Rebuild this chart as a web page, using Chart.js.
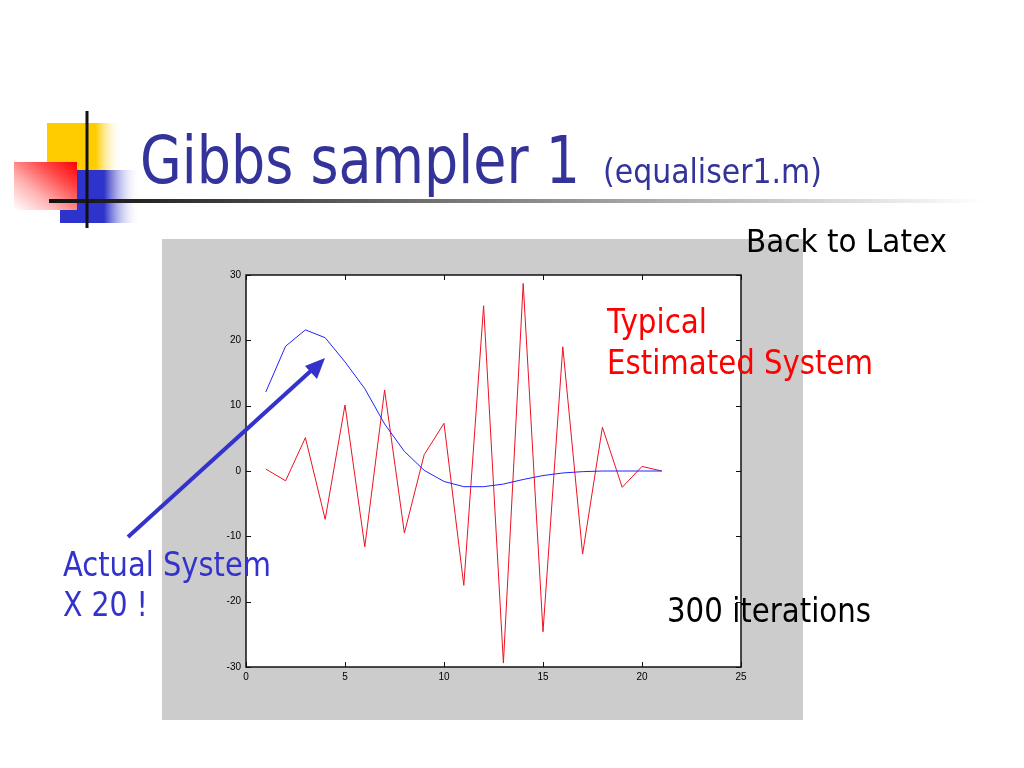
<!DOCTYPE html>
<html>
<head>
<meta charset="utf-8">
<script src="https://cdn.jsdelivr.net/npm/chart.js@4.4.0/dist/chart.umd.min.js"></script>
<style>
  html, body { margin:0; padding:0; background:#ffffff; }
  #page { position:relative; width:1024px; height:768px; overflow:hidden; background:#fff; }
  #chartBox { position:absolute; left:162px; top:239px; width:641px; height:481px; }
  #overlay { position:absolute; left:0; top:0; width:1024px; height:768px; pointer-events:none; }
  text { font-family: "DejaVu Sans", Verdana, sans-serif; }
</style>
</head>
<body>
<div id="page">
  <svg id="deco" width="1024" height="768" style="position:absolute;left:0;top:0">
    <defs>
      <linearGradient id="gYellow" x1="0" y1="0" x2="1" y2="0">
        <stop offset="0" stop-color="#ffcc00"/>
        <stop offset="0.65" stop-color="#ffcc00"/>
        <stop offset="1" stop-color="#ffffff" stop-opacity="0"/>
      </linearGradient>
      <linearGradient id="gBlue" x1="0" y1="0" x2="1" y2="0">
        <stop offset="0" stop-color="#2e33cc"/>
        <stop offset="0.55" stop-color="#2e33cc"/>
        <stop offset="1" stop-color="#ffffff" stop-opacity="0"/>
      </linearGradient>
      <linearGradient id="gRed" x1="1" y1="0" x2="0" y2="1">
        <stop offset="0" stop-color="#ff0000"/>
        <stop offset="0.3" stop-color="#ff4a4a"/>
        <stop offset="0.65" stop-color="#ffb4b4"/>
        <stop offset="1" stop-color="#ffffff"/>
      </linearGradient>
      <linearGradient id="gLine" x1="0" y1="0" x2="1" y2="0">
        <stop offset="0" stop-color="#111111"/>
        <stop offset="0.08" stop-color="#222222"/>
        <stop offset="1" stop-color="#ffffff"/>
      </linearGradient>
    </defs>
    <rect x="47" y="123" width="75" height="70" fill="url(#gYellow)"/>
    <rect x="60" y="170" width="80" height="53" fill="url(#gBlue)"/>
    <rect x="14" y="162" width="63" height="48" fill="url(#gRed)"/>
    <rect x="49" y="199" width="935" height="4" fill="url(#gLine)"/>
    <rect x="85.5" y="111" width="3" height="117" fill="#111111"/>
  </svg>
  <div id="chartBox"><canvas id="c" width="641" height="481"></canvas></div>
  <svg id="overlay" width="1024" height="768">
    <text x="140" y="183" font-size="66" fill="#333399" textLength="440" lengthAdjust="spacingAndGlyphs">Gibbs sampler 1</text>
    <text x="603" y="183" font-size="33" fill="#333399" textLength="219" lengthAdjust="spacingAndGlyphs">(equaliser1.m)</text>
    <text x="746" y="252" font-size="32" fill="#000000" textLength="201" lengthAdjust="spacingAndGlyphs">Back to Latex</text>
    <text x="607" y="333" font-size="33" fill="#ff0000" textLength="100" lengthAdjust="spacingAndGlyphs">Typical</text>
    <text x="607" y="374" font-size="33" fill="#ff0000" textLength="266" lengthAdjust="spacingAndGlyphs">Estimated System</text>
    <text x="63" y="576" font-size="33" fill="#3333cc" textLength="208" lengthAdjust="spacingAndGlyphs">Actual System</text>
    <text x="63" y="616" font-size="33" fill="#3333cc" textLength="85" lengthAdjust="spacingAndGlyphs">X 20 !</text>
    <text x="667" y="622" font-size="33" fill="#000000" textLength="204" lengthAdjust="spacingAndGlyphs">300 iterations</text>
    <line x1="128" y1="537" x2="314" y2="368" stroke="#3333cc" stroke-width="4"/>
    <polygon points="325,358 305,366 317,379" fill="#3333cc"/>
  </svg>
</div>
<script>
// ---- data ----
const sampleIndex = [1,2,3,4,5,6,7,8,9,10,11,12,13,14,15,16,17,18,19,20,21];
const estimatedSystem = [0.3,-1.5,5.1,-7.4,10.1,-11.6,12.4,-9.5,2.5,7.3,-17.5,25.3,-29.4,28.7,-24.6,19.0,-12.7,6.7,-2.5,0.7,0.0];
const actualSystemX20 = [12.1,19.1,21.6,20.4,16.7,12.6,7.2,3.0,0.1,-1.6,-2.4,-2.4,-2.0,-1.3,-0.7,-0.3,-0.1,0.0,0.0,0.0,0.0];
const xTicks = [0,5,10,15,20,25];
const yTicks = [-30,-20,-10,0,10,20,30];

const toPoints = (ys) => ys.map((y,i) => ({x: sampleIndex[i], y}));

const frame = {
  id: 'frame',
  beforeDraw(chart) {
    const {ctx, chartArea: a} = chart;
    ctx.save();
    ctx.fillStyle = '#cccccc';
    ctx.fillRect(0, 0, chart.width, chart.height);
    ctx.fillStyle = '#ffffff';
    ctx.fillRect(a.left, a.top, a.right - a.left, a.bottom - a.top);
    ctx.restore();
  },
  afterDraw(chart) {
    const {ctx, chartArea: a, scales} = chart;
    ctx.save();
    ctx.strokeStyle = '#111111';
    ctx.lineWidth = 1;
    const L = 5;
    ctx.beginPath();
    scales.x.ticks.forEach(t => {
      const px = Math.round(scales.x.getPixelForValue(t.value)) + 0.5;
      ctx.moveTo(px, a.bottom); ctx.lineTo(px, a.bottom - L);
      ctx.moveTo(px, a.top); ctx.lineTo(px, a.top + L);
    });
    scales.y.ticks.forEach(t => {
      const py = Math.round(scales.y.getPixelForValue(t.value)) + 0.5;
      ctx.moveTo(a.left, py); ctx.lineTo(a.left + L, py);
      ctx.moveTo(a.right, py); ctx.lineTo(a.right - L, py);
    });
    ctx.stroke();
    ctx.lineWidth = 1.5;
    ctx.strokeStyle = '#111111';
    ctx.strokeRect(a.left, a.top, a.right - a.left, a.bottom - a.top);
    ctx.restore();
  }
};

new Chart(document.getElementById('c'), {
  type: 'line',
  data: {
    datasets: [
      { label: 'Actual System X 20', data: toPoints(actualSystemX20), borderColor: '#2222ff', borderWidth: 1, pointRadius: 0, tension: 0, fill: false },
      { label: 'Typical Estimated System', data: toPoints(estimatedSystem), borderColor: '#ee1122', borderWidth: 1, pointRadius: 0, tension: 0, fill: false }
    ]
  },
  options: {
    responsive: false,
    animation: false,
    devicePixelRatio: 1,
    layout: { padding: { top: 36, right: 62, left: 0, bottom: 0 } },
    plugins: { legend: { display: false }, tooltip: { enabled: false } },
    scales: {
      x: {
        type: 'linear', min: 0, max: 25,
        afterBuildTicks: (s) => { s.ticks = xTicks.map(v => ({value: v})); },
        afterFit: (s) => { s.height = 53; },
        grid: { display: false, drawTicks: false },
        border: { display: false },
        ticks: { padding: 4, color: '#000', font: { family: 'Liberation Sans', size: 10 }, maxRotation: 0, autoSkip: false }
      },
      y: {
        type: 'linear', min: -30, max: 30,
        afterBuildTicks: (s) => { s.ticks = yTicks.map(v => ({value: v})); },
        afterFit: (s) => { s.width = 84; },
        grid: { display: false, drawTicks: false },
        border: { display: false },
        ticks: { padding: 5, color: '#000', font: { family: 'Liberation Sans', size: 10 }, autoSkip: false }
      }
    }
  },
  plugins: [frame]
});
</script>
</body>
</html>
